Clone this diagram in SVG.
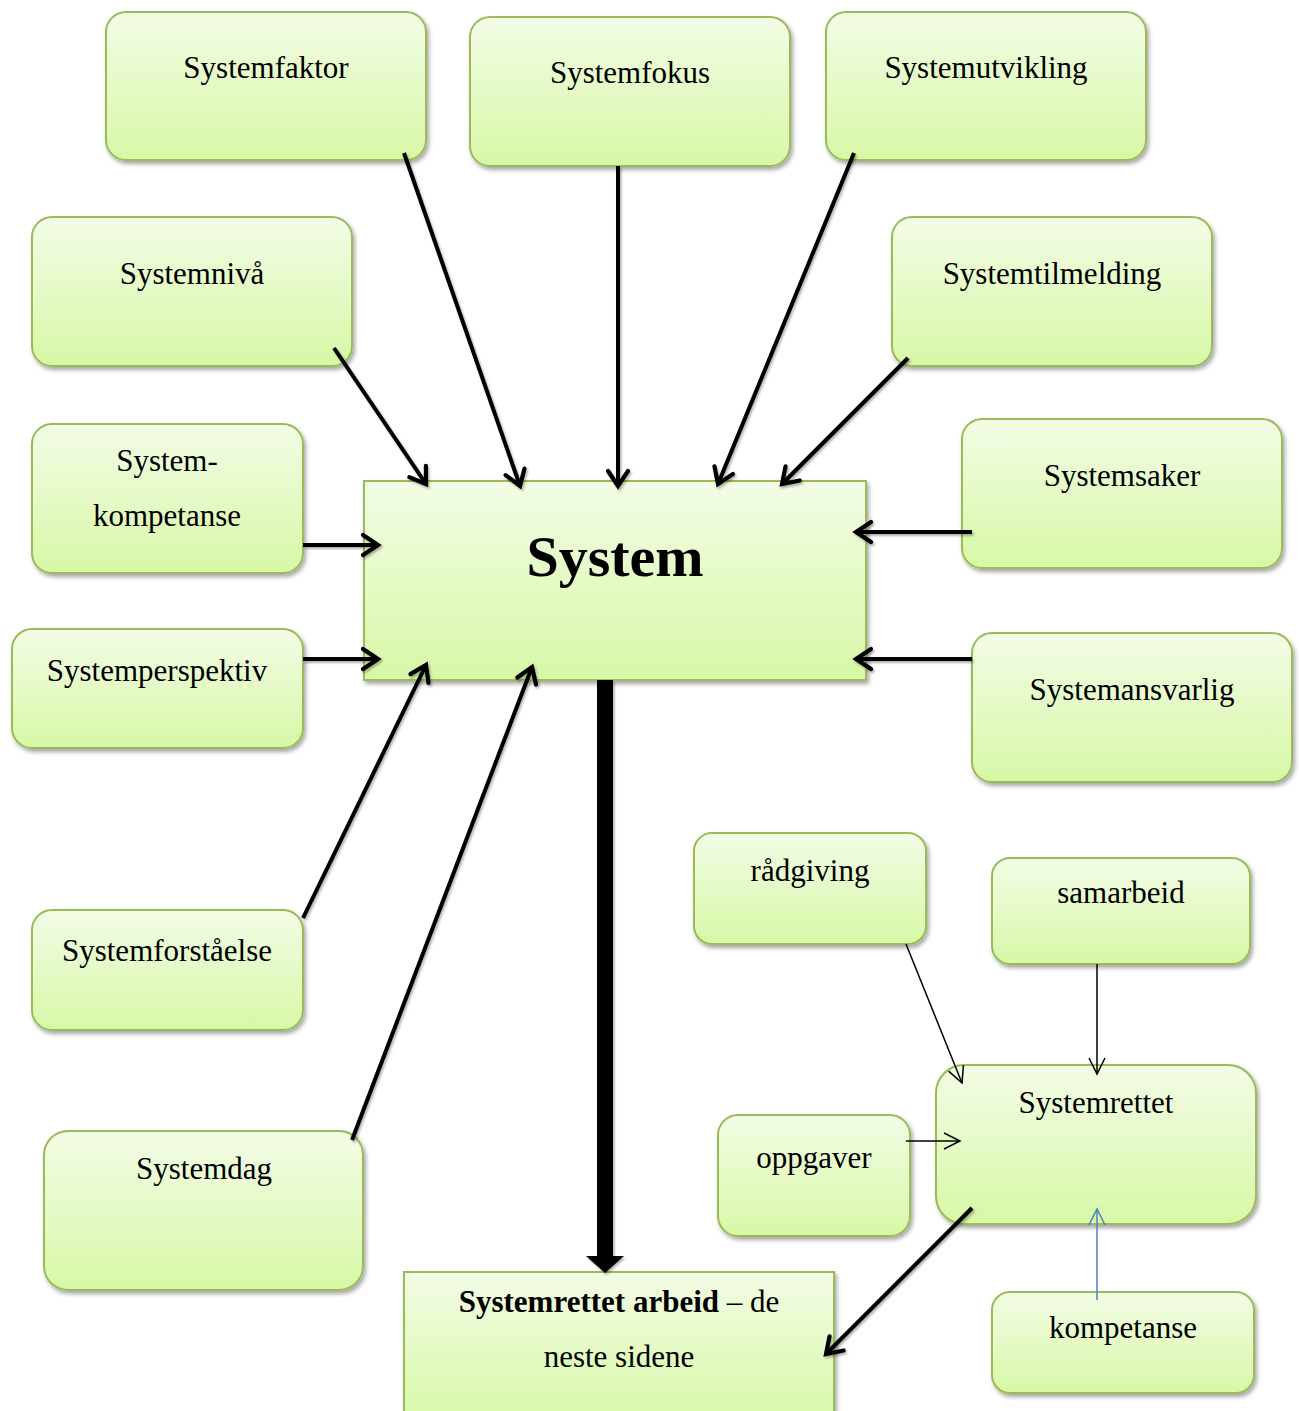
<svg xmlns="http://www.w3.org/2000/svg" width="1299" height="1411" viewBox="0 0 1299 1411">
  <defs>
    <linearGradient id="fillGreen" x1="0" y1="0" x2="0" y2="1">
      <stop offset="0" stop-color="#F3FCE6"/>
      <stop offset="1" stop-color="#D7F8A6"/>
    </linearGradient>
    <filter id="shadow" x="-10%" y="-10%" width="125%" height="130%">
      <feDropShadow dx="2" dy="3" stdDeviation="2.2" flood-color="#000" flood-opacity="0.35"/>
    </filter>
    <!-- user-space region so straight horizontal/vertical lines keep their shadow -->
    <filter id="lineShadow" filterUnits="userSpaceOnUse" x="0" y="0" width="1299" height="1411">
      <feDropShadow dx="1.5" dy="2" stdDeviation="1.2" flood-color="#000" flood-opacity="0.3"/>
    </filter>
    <marker id="openHead" viewBox="-20 -14 24 28" refX="0" refY="0" markerWidth="24" markerHeight="28" markerUnits="userSpaceOnUse" orient="auto">
      <path d="M-15,-10 L0,0 L-15,10" fill="none" stroke="#000" stroke-width="4.2" stroke-linecap="round" stroke-linejoin="miter"/>
    </marker>
    <marker id="thinHead" viewBox="-20 -12 22 24" refX="0" refY="0" markerWidth="22" markerHeight="24" markerUnits="userSpaceOnUse" orient="auto">
      <path d="M-16,-8 L0,0 L-16,8" fill="none" stroke="#000" stroke-width="1.5"/>
    </marker>
    <marker id="blueHead" viewBox="-20 -12 22 24" refX="0" refY="0" markerWidth="22" markerHeight="24" markerUnits="userSpaceOnUse" orient="auto">
      <path d="M-16,-8 L0,0 L-16,8" fill="none" stroke="#4F81BD" stroke-width="1.5"/>
    </marker>
  </defs>
  <style>
    .box { fill: url(#fillGreen); stroke: #9BBB59; stroke-width: 2; filter: url(#shadow); }
    .lbl { font-family: "Liberation Serif", "Times New Roman", serif; font-size: 31px; fill: #000; text-anchor: middle; }
    .title { font-family: "Liberation Serif", "Times New Roman", serif; font-size: 58px; font-weight: bold; fill: #000; text-anchor: middle; }
    .conn { stroke: #000; stroke-width: 4; fill: none; marker-end: url(#openHead); }
    .thin { stroke: #000; stroke-width: 1.5; fill: none; marker-end: url(#thinHead); }
  </style>
  <rect width="1299" height="1411" fill="#fff"/>

  <!-- nodes -->
  <g id="n-systemfaktor">
    <rect class="box" x="106" y="12" width="320" height="148" rx="20"/>
    <text class="lbl" x="266" y="78">Systemfaktor</text>
  </g>
  <g id="n-systemfokus">
    <rect class="box" x="470" y="17" width="320" height="149" rx="20"/>
    <text class="lbl" x="630" y="83">Systemfokus</text>
  </g>
  <g id="n-systemutvikling">
    <rect class="box" x="826" y="12" width="320" height="148" rx="20"/>
    <text class="lbl" x="986" y="78">Systemutvikling</text>
  </g>
  <g id="n-systemniva">
    <rect class="box" x="32" y="217" width="320" height="149" rx="20"/>
    <text class="lbl" x="192" y="284">Systemnivå</text>
  </g>
  <g id="n-systemtilmelding">
    <rect class="box" x="892" y="217" width="320" height="149" rx="20"/>
    <text class="lbl" x="1052" y="284">Systemtilmelding</text>
  </g>
  <g id="n-systemkompetanse">
    <rect class="box" x="32" y="424" width="271" height="149" rx="20"/>
    <text class="lbl" x="167" y="471">System-</text>
    <text class="lbl" x="167" y="526">kompetanse</text>
  </g>
  <g id="n-system">
    <rect class="box" x="364" y="481" width="502" height="199"/>
    <text class="title" x="615" y="576">System</text>
  </g>
  <g id="n-systemsaker">
    <rect class="box" x="962" y="419" width="320" height="149" rx="20"/>
    <text class="lbl" x="1122" y="486">Systemsaker</text>
  </g>
  <g id="n-systemperspektiv">
    <rect class="box" x="12" y="629" width="291" height="119" rx="20"/>
    <text class="lbl" x="157" y="681">Systemperspektiv</text>
  </g>
  <g id="n-systemansvarlig">
    <rect class="box" x="972" y="633" width="320" height="149" rx="20"/>
    <text class="lbl" x="1132" y="700">Systemansvarlig</text>
  </g>
  <g id="n-radgiving">
    <rect class="box" x="694" y="833" width="232" height="111" rx="18"/>
    <text class="lbl" x="810" y="881">rådgiving</text>
  </g>
  <g id="n-samarbeid">
    <rect class="box" x="992" y="858" width="258" height="106" rx="18"/>
    <text class="lbl" x="1121" y="903">samarbeid</text>
  </g>
  <g id="n-systemforstaelse">
    <rect class="box" x="32" y="910" width="271" height="120" rx="20"/>
    <text class="lbl" x="167" y="961">Systemforståelse</text>
  </g>
  <g id="n-systemrettet">
    <rect class="box" x="936" y="1065" width="320" height="159" rx="28"/>
    <text class="lbl" x="1096" y="1113">Systemrettet</text>
  </g>
  <g id="n-oppgaver">
    <rect class="box" x="718" y="1115" width="192" height="121" rx="20"/>
    <text class="lbl" x="814" y="1168">oppgaver</text>
  </g>
  <g id="n-systemdag">
    <rect class="box" x="44" y="1131" width="319" height="159" rx="24"/>
    <text class="lbl" x="204" y="1179">Systemdag</text>
  </g>
  <g id="n-systemrettet-arbeid">
    <rect class="box" x="404" y="1272" width="430" height="150"/>
    <text class="lbl" x="619" y="1312"><tspan font-weight="bold">Systemrettet arbeid</tspan> – de</text>
    <text class="lbl" x="619" y="1367">neste sidene</text>
  </g>
  <g id="n-kompetanse">
    <rect class="box" x="992" y="1292" width="262" height="101" rx="18"/>
    <text class="lbl" x="1123" y="1338">kompetanse</text>
  </g>

  <!-- connectors, drawn over the boxes -->
  <g id="connectors">
    <g filter="url(#lineShadow)">
      <line class="conn" x1="404" y1="153" x2="520" y2="486"/>
      <line class="conn" x1="618" y1="166" x2="618" y2="486"/>
      <line class="conn" x1="854" y1="153" x2="718" y2="484"/>
      <line class="conn" x1="334" y1="348" x2="426" y2="484"/>
      <line class="conn" x1="908" y1="358" x2="782" y2="484"/>
      <line class="conn" x1="303" y1="545" x2="378" y2="545"/>
      <line class="conn" x1="303" y1="659" x2="378" y2="659"/>
      <line class="conn" x1="972" y1="532" x2="856" y2="532"/>
      <line class="conn" x1="972" y1="659" x2="856" y2="659"/>
      <line class="conn" x1="303" y1="918" x2="426" y2="665"/>
      <line class="conn" x1="352" y1="1140" x2="532" y2="667"/>
      <line class="conn" x1="972" y1="1208" x2="826" y2="1354"/>
      <!-- heavy trunk down to the page box -->
      <rect x="597" y="680" width="16" height="578" fill="#000"/>
      <polygon points="586,1256 624,1256 605,1273" fill="#000"/>
    </g>
    <line class="thin" x1="906" y1="944" x2="962" y2="1083"/>
    <line class="thin" x1="1097" y1="964" x2="1097" y2="1074"/>
    <line class="thin" x1="906" y1="1141" x2="960" y2="1141"/>
    <line x1="1097" y1="1300" x2="1097" y2="1209" stroke="#4F81BD" stroke-width="1.5" fill="none" marker-end="url(#blueHead)"/>
  </g>
</svg>
